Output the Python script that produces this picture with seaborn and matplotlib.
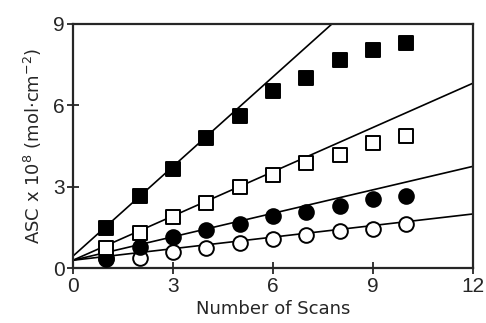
import numpy as np
import pandas as pd
import matplotlib
matplotlib.use("Agg")
import matplotlib.pyplot as plt
import seaborn as sns

# data
scans = [1, 2, 3, 4, 5, 6, 7, 8, 9, 10]
filled_squares = [1.47, 2.65, 3.67, 4.80, 5.61, 6.53, 7.02, 7.68, 8.05, 8.30]
open_squares = [0.74, 1.31, 1.88, 2.42, 3.01, 3.43, 3.88, 4.16, 4.62, 4.87]
filled_circles = [0.40, 0.79, 1.14, 1.43, 1.63, 1.92, 2.07, 2.29, 2.55, 2.66]
open_circles = [0.34, 0.37, 0.59, 0.75, 0.92, 1.07, 1.23, 1.39, 1.44, 1.63]

# straight fit lines (intercept, slope) for each series
fit_intercepts = [0.45, 0.30, 0.30, 0.30]
fit_slopes = [1.10, 0.543, 0.288, 0.142]
fit_x = [0, 12]

sns.set_style("ticks")
plt.rcParams["font.family"] = ["Liberation Sans", "DejaVu Sans"]
plt.rcParams["mathtext.default"] = "regular"

fig = plt.figure(figsize=(4.86, 3.23), dpi=100)
ax = fig.add_axes([0.150, 0.169, 0.823, 0.757])

# fit lines
for b, m in zip(fit_intercepts, fit_slopes):
    line_df = pd.DataFrame({"x": fit_x, "y": [b + m * x for x in fit_x]})
    sns.lineplot(data=line_df, x="x", y="y", ax=ax, color="black", lw=1.2)

# markers
series = [
    (filled_squares, "s", "black"),
    (open_squares, "s", "white"),
    (filled_circles, "o", "black"),
    (open_circles, "o", "white"),
]
for values, marker, face in series[::-1]:
    df = pd.DataFrame({"scans": scans, "asc": values})
    sns.scatterplot(data=df, x="scans", y="asc", ax=ax, marker=marker,
                    s=112, color=face, edgecolor="black", linewidth=1.4,
                    zorder=3, clip_on=False)

ax.set_xlim(0, 12)
ax.set_ylim(0, 9)
ax.set_xticks([0, 3, 6, 9, 12])
ax.set_yticks([0, 3, 6, 9])
ax.tick_params(direction="inout", length=8, width=1.3, labelsize=15, pad=2)
for spine in ax.spines.values():
    spine.set_linewidth(1.6)
    spine.set_visible(True)

ax.set_xlabel("Number of Scans", fontsize=13, family="DejaVu Sans", labelpad=3)
ax.set_ylabel(r"ASC x 10$^{8}$ (mol$\cdot$cm$^{-2}$)", fontsize=13,
              family="DejaVu Sans", labelpad=6)

fig.savefig("out.png", dpi=100)
